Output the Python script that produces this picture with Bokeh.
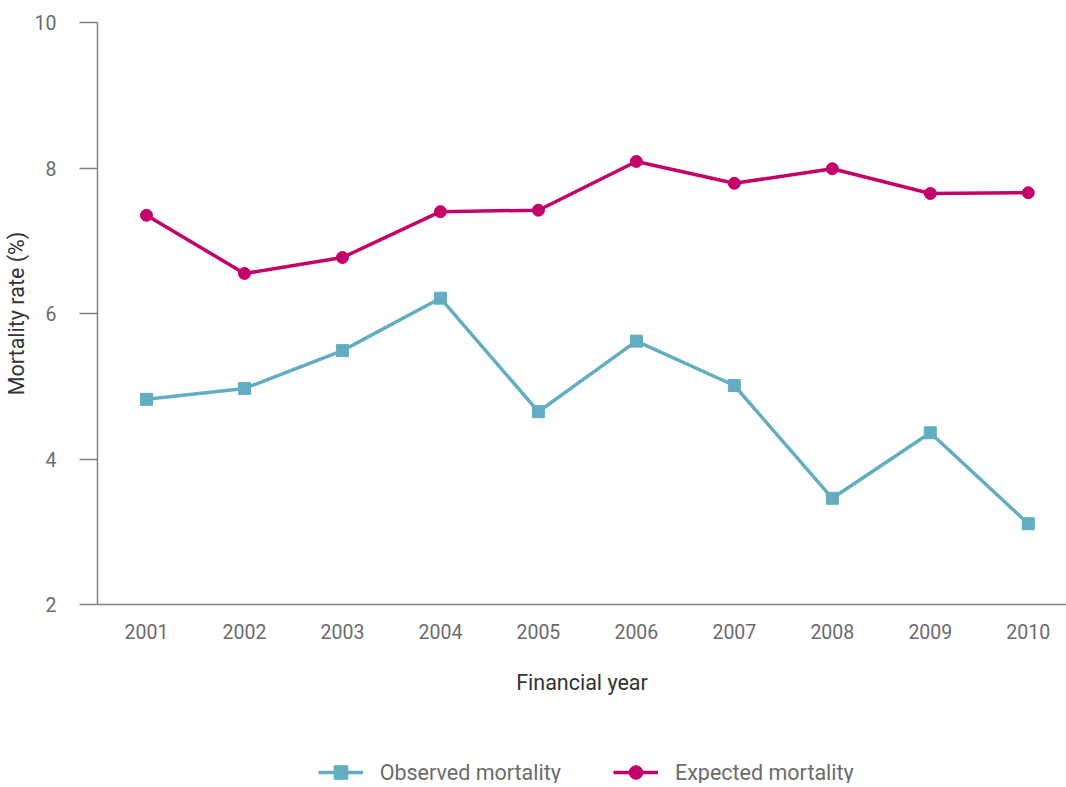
from bokeh.plotting import figure
from bokeh.models import Legend, LegendItem, Range1d, FixedTicker
from bokeh.layouts import column
from bokeh.embed import file_html
from bokeh.resources import INLINE

years = [2001, 2002, 2003, 2004, 2005, 2006, 2007, 2008, 2009, 2010]
observed = [4.82, 4.97, 5.49, 6.21, 4.65, 5.62, 5.01, 3.46, 4.36, 3.11]
expected = [7.35, 6.55, 6.77, 7.40, 7.42, 8.09, 7.79, 7.99, 7.65, 7.66]
y_ticks = [2, 4, 6, 8, 10]

OBS_C = "#63adc2"
EXP_C = "#c4006a"
FONT = "Roboto"

p1 = figure(frame_width=969, frame_height=582, output_backend="svg", toolbar_location=None,
            x_range=Range1d(2000.5, 2010.39), y_range=Range1d(2, 10),
            min_border_left=0, min_border_right=0, min_border_top=22, min_border_bottom=0)
p1.outline_line_color = None
p1.grid.visible = False

p1.line(years, observed, line_color=OBS_C, line_width=3.5)
p1.scatter(years, observed, marker="square", size=12, fill_color=OBS_C, line_color=OBS_C)
p1.line(years, expected, line_color=EXP_C, line_width=3.5)
p1.scatter(years, expected, marker="circle", size=12, fill_color=EXP_C, line_color=EXP_C)

p1.xaxis.ticker = FixedTicker(ticks=years)
p1.xaxis.major_tick_out = 0
p1.xaxis.major_tick_in = 0
p1.xaxis.minor_tick_out = 0
p1.xaxis.minor_tick_in = 0
p1.xaxis.major_label_standoff = 19
p1.xaxis.axis_label = "Financial year"
p1.xaxis.axis_label_standoff = 28

p1.yaxis.ticker = FixedTicker(ticks=y_ticks)
p1.yaxis.major_tick_out = 18
p1.yaxis.major_tick_in = 0
p1.yaxis.minor_tick_out = 0
p1.yaxis.minor_tick_in = 0
p1.yaxis.major_label_standoff = 23
p1.yaxis.axis_label = "Mortality rate (%)"
p1.yaxis.axis_label_standoff = 3

for ax in (p1.xaxis, p1.yaxis):
    ax.axis_line_color = "#808080"
    ax.axis_line_width = 1.5
    ax.major_tick_line_color = "#808080"
    ax.major_tick_line_width = 1.5
    ax.major_label_text_font = FONT
    ax.major_label_text_font_size = "19.5px"
    ax.major_label_text_color = "#6b6b6b"
    ax.axis_label_text_font = FONT
    ax.axis_label_text_font_size = "21.5px"
    ax.axis_label_text_font_style = "normal"
    ax.axis_label_text_color = "#333333"

# legend strip: same series drawn outside its view, only the legend shows
p2 = figure(frame_width=969, frame_height=86, output_backend="svg", toolbar_location=None,
            x_range=Range1d(0, 1), y_range=Range1d(0, 1),
            x_axis_type=None, y_axis_type=None,
            min_border_left=89, min_border_right=0, min_border_top=0, min_border_bottom=0)
p2.outline_line_color = None
p2.grid.visible = False
g1 = p2.line(years, observed, line_color=OBS_C, line_width=3.5)
g2 = p2.scatter(years, observed, marker="square", size=12, fill_color=OBS_C, line_color=OBS_C)
g3 = p2.line(years, expected, line_color=EXP_C, line_width=3.5)
g4 = p2.scatter(years, expected, marker="circle", size=12, fill_color=EXP_C, line_color=EXP_C)

legend = Legend(items=[
    LegendItem(label="Observed mortality", renderers=[g1, g2]),
    LegendItem(label="Expected mortality", renderers=[g3, g4]),
], orientation="horizontal", location=(288, -6))
legend.label_text_font = FONT
legend.label_text_font_size = "21.5px"
legend.label_text_color = "#6b6b6b"
legend.glyph_width = 45
legend.glyph_height = 34
legend.label_standoff = 17
legend.spacing = 52
legend.border_line_color = None
legend.background_fill_alpha = 0
legend.margin = 0
legend.padding = 0
p2.add_layout(legend)

layout = column(p1, p2, spacing=0)
open("out.html", "w").write(file_html(layout, INLINE))
